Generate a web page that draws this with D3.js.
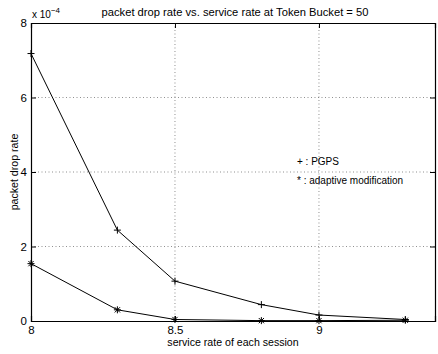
<!DOCTYPE html>
<meta charset="utf-8">
<head>
  <style>
    body { margin: 0; background: white; }
    text { font-family: "Liberation Sans", Arial, sans-serif; font-size: 10px; fill: #000; }
  </style>
</head>
<script src="https://d3js.org/d3.v7.min.js"></script>
<div id="my_dataviz"></div>
<script>
// data (drop rate in units of 1e-4)
const serviceRate = [8, 8.3, 8.5, 8.8, 9.0, 9.3];
const pgps = [7.18, 2.44, 1.07, 0.44, 0.16, 0.04];
const adaptive = [1.54, 0.30, 0.04, 0.01, 0.01, 0.02];
const xTicks = [8, 8.5, 9];
const yTicks = [0, 2, 4, 6, 8];

const W = 438, H = 354;
const margin = {left: 31, right: 3, top: 23, bottom: 33};

var svg = d3.select("#my_dataviz")
  .append("svg")
  .attr("width", W)
  .attr("height", H);

var x = d3.scaleLinear().domain([8, 9.403]).range([margin.left, W - margin.right]);
var y = d3.scaleLinear().domain([0, 8]).range([H - margin.bottom, margin.top]);

// grid (dotted)
svg.selectAll(".vgrid")
  .data(xTicks.filter(d => d > 8))
  .enter().append("line")
  .attr("x1", d => x(d)).attr("x2", d => x(d))
  .attr("y1", y(8)).attr("y2", y(0))
  .attr("stroke", "#444").attr("stroke-width", 0.6)
  .attr("stroke-dasharray", "1,2.5");
svg.selectAll(".hgrid")
  .data(yTicks.filter(d => d > 0 && d < 8))
  .enter().append("line")
  .attr("x1", x(8)).attr("x2", x(9.403))
  .attr("y1", d => y(d)).attr("y2", d => y(d))
  .attr("stroke", "#444").attr("stroke-width", 0.6)
  .attr("stroke-dasharray", "1,2.5");

// axes with inward ticks on all four sides
svg.append("g")
  .attr("transform", `translate(0,${y(0)})`)
  .call(d3.axisBottom(x).tickValues(xTicks).tickSize(-5).tickPadding(5).tickFormat(d3.format("")));
svg.append("g")
  .attr("transform", `translate(0,${y(8)})`)
  .call(d3.axisTop(x).tickValues(xTicks).tickSize(-5).tickFormat(""));
svg.append("g")
  .attr("transform", `translate(${x(8)},0)`)
  .call(d3.axisLeft(y).tickValues(yTicks).tickSize(-5).tickPadding(4).tickFormat(d3.format("d")));
svg.append("g")
  .attr("transform", `translate(${x(9.403)},0)`)
  .call(d3.axisRight(y).tickValues(yTicks).tickSize(-5).tickFormat(""));

svg.selectAll(".domain").attr("stroke", "#000").attr("stroke-width", 1.2);
svg.selectAll(".tick line").attr("stroke", "#000");
svg.selectAll(".tick text").style("font-size", "11.5px").attr("fill", "#000");

// lines
var line = d3.line().x((d, i) => x(serviceRate[i])).y(d => y(d));
[pgps, adaptive].forEach(series => {
  svg.append("path")
    .datum(series)
    .attr("d", line)
    .attr("fill", "none")
    .attr("stroke", "#000")
    .attr("stroke-width", 1);
});

// markers
const s = 3.5;
svg.selectAll(".plus")
  .data(pgps)
  .enter().append("path")
  .attr("d", (d, i) => {
    const cx = x(serviceRate[i]), cy = y(d);
    return `M${cx - s},${cy}H${cx + s}M${cx},${cy - s}V${cy + s}`;
  })
  .attr("stroke", "#000").attr("stroke-width", 1);
svg.selectAll(".star")
  .data(adaptive)
  .enter().append("path")
  .attr("d", (d, i) => {
    const cx = x(serviceRate[i]), cy = y(d), k = s * 0.75;
    return `M${cx - s},${cy}H${cx + s}M${cx},${cy - s}V${cy + s}` +
      `M${cx - k},${cy - k}L${cx + k},${cy + k}M${cx - k},${cy + k}L${cx + k},${cy - k}`;
  })
  .attr("stroke", "#000").attr("stroke-width", 1);

// texts
svg.append("text")
  .attr("x", 235).attr("y", 16)
  .attr("text-anchor", "middle")
  .style("font-size", "11.2px")
  .text("packet drop rate vs. service rate at Token Bucket = 50");

var expo = svg.append("text").attr("x", 32).attr("y", 18);
expo.append("tspan").text("x 10");
expo.append("tspan").attr("dy", -5).style("font-size", "8px").text("\u22124");

svg.append("text")
  .attr("x", 233).attr("y", 346)
  .attr("text-anchor", "middle")
  .style("font-size", "10.6px")
  .text("service rate of each session");

svg.append("text")
  .attr("transform", `translate(18,${(y(0) + y(8)) / 2}) rotate(-90)`)
  .attr("text-anchor", "middle")
  .style("font-size", "10.6px")
  .text("packet drop rate");

svg.append("text").attr("x", 297).attr("y", 165).text("+ : PGPS");
svg.append("text").attr("x", 297).attr("y", 184).text("* : adaptive modification");
</script>
